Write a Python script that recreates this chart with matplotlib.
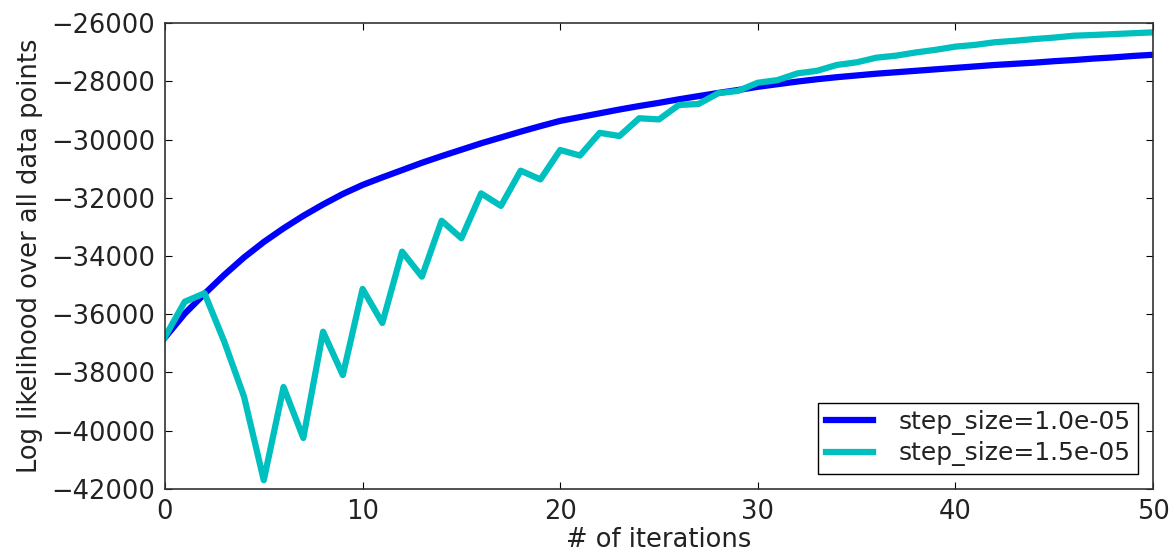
# Log likelihood vs iterations for two step sizes

import numpy as np
import matplotlib as mpl
import matplotlib.pyplot as plt

# values
iterations = np.arange(51)
ll_step_1e5 = np.array([-36800, -35980, -35300, -34650, -34050, -33520, -33050, -32620, -32230, -31870,
                        -31560, -31300, -31050, -30800, -30570, -30350, -30130, -29930, -29730, -29540,
                        -29360, -29230, -29100, -28970, -28850, -28740, -28620, -28510, -28400, -28300,
                        -28190, -28100, -28010, -27930, -27860, -27800, -27740, -27690, -27640, -27590,
                        -27540, -27490, -27440, -27400, -27360, -27310, -27270, -27220, -27180, -27130,
                        -27090])
ll_step_15e5 = np.array([-36780, -35570, -35280, -36940, -38830, -41700, -38500, -40250, -36600, -38090,
                         -35130, -36300, -33850, -34710, -32790, -33390, -31850, -32280, -31070, -31370,
                         -30360, -30550, -29770, -29880, -29270, -29310, -28815, -28780, -28410, -28330,
                         -28050, -27960, -27730, -27640, -27440, -27350, -27190, -27120, -27010, -26920,
                         -26810, -26750, -26660, -26610, -26550, -26500, -26435, -26410, -26380, -26350,
                         -26320])
labels = ['step_size=1.0e-05', 'step_size=1.5e-05']

fig = plt.figure(figsize=(11.7, 5.55), dpi=100)
ax = fig.add_axes([0.141, 0.119, 0.8445, 0.8395])

ax.plot(iterations, ll_step_1e5, color='b', lw=4.5, label=labels[0])
ax.plot(iterations, ll_step_15e5, color=(0, 0.75, 0.75), lw=4.5, label=labels[1])

ax.set_xlim(0, 50)
ax.set_ylim(-42000, -26000)
ax.set_xticks([0, 10, 20, 30, 40, 50])
ax.set_yticks(np.arange(-42000, -25999, 2000))
ax.tick_params(direction='in', top=True, right=True, labelsize=18.5, length=5, pad=7,
               labelcolor='#222222')
for sp in ax.spines.values():
    sp.set_linewidth(1.2)
    sp.set_color('#333333')

ax.set_xlabel('# of iterations', size=18.5, labelpad=2, color='#222222')
ax.set_ylabel('Log likelihood over all data points', size=18.5, labelpad=6, color='#222222')

leg = ax.legend(loc='lower right', fontsize=18, fancybox=False, handlelength=1.9,
                labelspacing=0.25, borderpad=0.3, handletextpad=1.0,
                borderaxespad=0.6, framealpha=1)
leg.get_frame().set_edgecolor('black')
leg.get_frame().set_linewidth(1.0)
for t in leg.get_texts():
    t.set_color('#222222')

fig.savefig('out.png', dpi=100)
